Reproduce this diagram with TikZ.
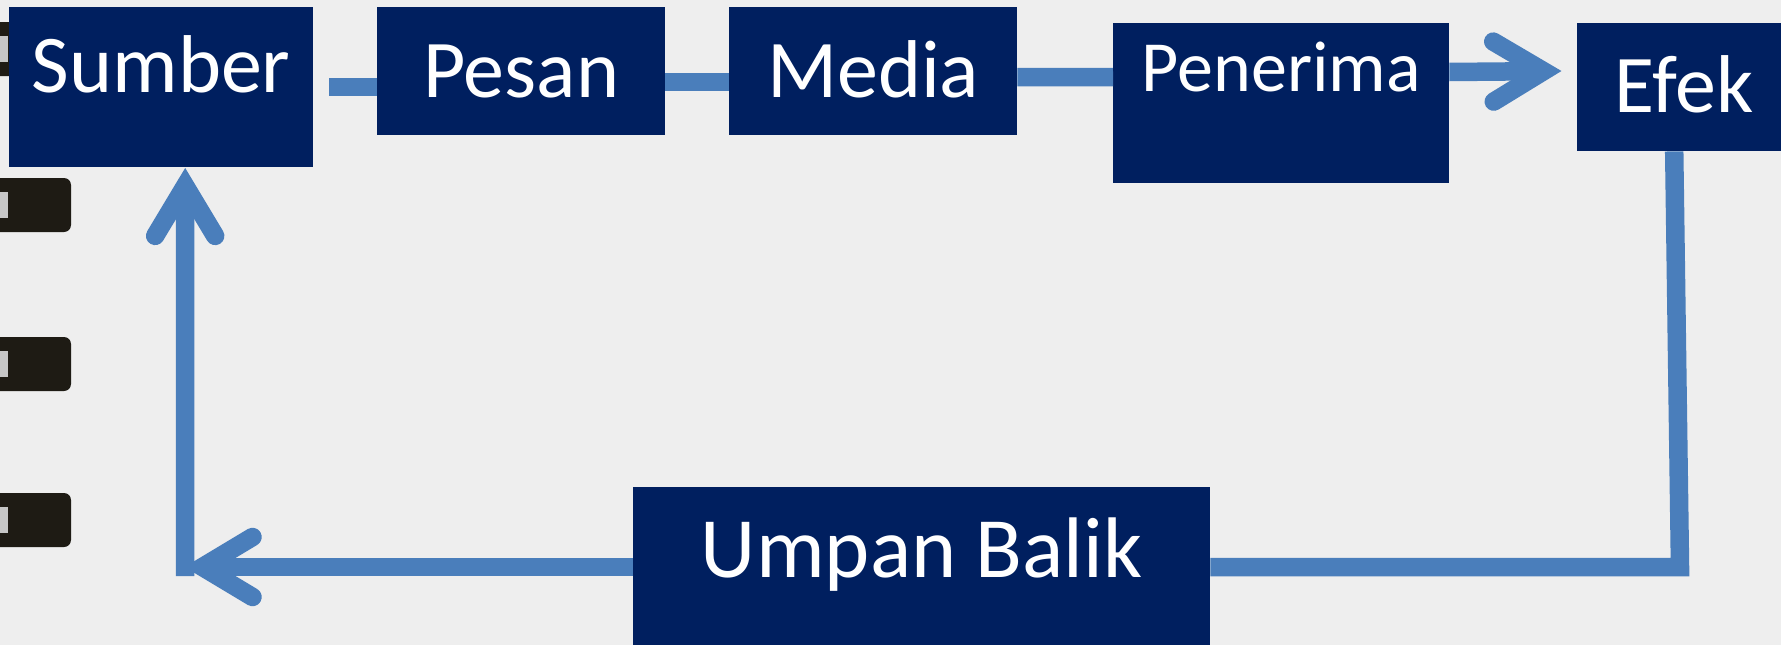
\documentclass[tikz,border=0pt]{standalone}
\usepackage{fontspec}
\setmainfont{Carlito}
\usetikzlibrary{calc}
\definecolor{navy}{HTML}{001F5F}
\definecolor{linkblue}{HTML}{4A7EBB}
\definecolor{paper}{RGB}{238,238,238}
\definecolor{ringdark}{HTML}{1E1B14}
\pgfdeclarearrow{
  name = OpenBarb,
  setup code = {
    \pgfarrowssettipend{17.5pt}
    \pgfarrowssetlineend{0pt}
    \pgfarrowssetbackend{-59pt}
    \pgfarrowshullpoint{17.5pt}{0pt}
    \pgfarrowsupperhullpoint{-59pt}{39pt}
  },
  drawing code = {
    \pgfsetdash{}{0pt}
    \pgfsetroundcap
    \pgfsetmiterjoin
    \pgfpathmoveto{\pgfqpoint{-50pt}{30pt}}
    \pgfpathlineto{\pgfqpoint{0pt}{0pt}}
    \pgfpathlineto{\pgfqpoint{-50pt}{-30pt}}
    \pgfusepathqstroke
  }
}
\tikzset{
  box/.style={fill=navy, text=white, inner sep=0pt, anchor=north west,
    font=\fontsize{82}{92}\selectfont},
  link/.style={draw=linkblue, line width=18.5pt, line join=miter},
  arr/.style={link, -OpenBarb},
  ring/.style={fill=ringdark, rounded corners=7pt},
  ringhi/.style={fill=gray!45}
}
\begin{document}
\begin{tikzpicture}[x=1pt,y=-1pt]
\useasboundingbox (0,0) rectangle (1781,645);
\clip (0,0) rectangle (1781,645);
\fill[paper] (0,0) rectangle (1781,645);
% binder rings
\foreach \t in {22,178,337,493}{
  \fill[ring] (-12,\t) rectangle (71,\t+54);
  \fill[ringhi] (0,\t+14) rectangle (8,\t+40);
}
% boxes
\node[box, minimum width=304pt, text height=85pt, text depth=75pt] (sumber) at (9,7) {Sumber};
\node[box, minimum width=288pt, text height=90pt, text depth=38pt] (pesan) at (377,7) {Pesan};
\node[box, minimum width=288pt, text height=90pt, text depth=38pt] (media) at (729,7) {Media};
\node[box, minimum width=336pt, text height=68pt, text depth=92pt,
  font=\fontsize{72}{82}\selectfont] (penerima) at (1113,23) {Penerima};
\node[box, minimum width=214pt, text height=89pt, text depth=39pt] (efek) at (1577,23) {Efek};
\node[box, minimum width=577pt, text height=90pt, text depth=83pt,
  font=\fontsize{86}{96}\selectfont] (umpan) at (633,487) {Umpan Balik};
% corners
\coordinate (ec) at (1680,567);
\coordinate (fb) at (185,567);
% connectors
\draw[link] ($(sumber.east)+(16,0)$) -- (pesan.west |- sumber.east);
\draw[link] ($(pesan.east)+(0,11)$) -- ($(media.west)+(0,11)$);
\draw[link] ($(media.east)+(0,6)$) -- ($(penerima.north west)+(0,54)$);
\draw[arr] ($(penerima.north east)+(0,49)$) -- ($(efek.north west)+(-16,48)$);
\draw[link] ($(efek.south)+(-10,0)$) -- (ec) -- (umpan.east |- ec);
\draw[arr] (umpan.west |- fb) -- (fb);
\draw[arr] ($(fb)+(0,9)$) -- ($(sumber.south)+(24,1)$);
\end{tikzpicture}
\end{document}
